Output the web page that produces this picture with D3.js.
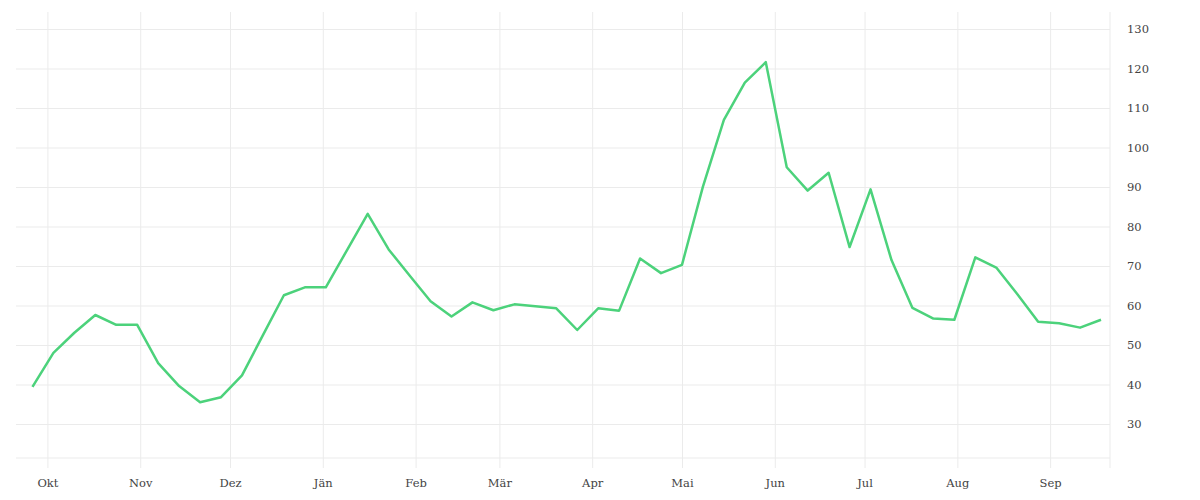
<!DOCTYPE html>
<html>
<head>
<meta charset="utf-8">
<script src="https://cdn.jsdelivr.net/npm/d3@7"></script>
<style>
  body { margin: 0; background: #fff; }
  svg text { font-family: "DejaVu Serif", serif; font-size: 11.5px; fill: #444; }
</style>
</head>
<body>
<svg id="chart" width="1200" height="500"></svg>
<script>
// weekly dates (Mondays)
const dates = [
  "2022-09-26","2022-10-03","2022-10-10","2022-10-17","2022-10-24","2022-10-31",
  "2022-11-07","2022-11-14","2022-11-21","2022-11-28","2022-12-05","2022-12-12",
  "2022-12-19","2022-12-26","2023-01-02","2023-01-09","2023-01-16","2023-01-23",
  "2023-01-30","2023-02-06","2023-02-13","2023-02-20","2023-02-27","2023-03-06",
  "2023-03-13","2023-03-20","2023-03-27","2023-04-03","2023-04-10","2023-04-17",
  "2023-04-24","2023-05-01","2023-05-08","2023-05-15","2023-05-22","2023-05-29",
  "2023-06-05","2023-06-12","2023-06-19","2023-06-26","2023-07-03","2023-07-10",
  "2023-07-17","2023-07-24","2023-07-31","2023-08-07","2023-08-14","2023-08-21",
  "2023-08-28","2023-09-04","2023-09-11","2023-09-18"
];

const values = [
  39.4, 48.0, 53.1, 57.6, 55.1, 55.1, 45.4, 39.6, 35.5, 36.8, 42.3, 52.5,
  62.6, 64.6, 64.6, 73.9, 83.2, 74.2, 67.6, 61.1, 57.2, 60.8, 58.8, 60.3,
  59.8, 59.3, 53.8, 59.3, 58.7, 71.9, 68.2, 70.3, 90.1, 107.0, 116.4, 121.6,
  95.0, 89.1, 93.6, 74.8, 89.4, 71.5, 59.4, 56.7, 56.4, 72.2, 69.6, 62.9,
  55.9, 55.5, 54.4, 56.4
];

const monthLabels = ["Okt","Nov","Dez","Jän","Feb","Mär","Apr","Mai","Jun","Jul","Aug","Sep"];
const yTicks = [30, 40, 50, 60, 70, 80, 90, 100, 110, 120, 130];

// layout
const plot = { left: 16, right: 1110, top: 12, bottom: 458 };
const gridColor = "#ebebeb";
const lineColor = "#4cd27b";

const parse = d3.timeParse("%Y-%m-%d");
const data = dates.map((d, i) => ({ date: parse(d), value: values[i] }));

const svg = d3.select("#chart");

const x = d3.scaleTime()
    .domain([new Date(2022, 8, 20, 12), new Date(2023, 8, 21)])
    .range([plot.left, plot.right]);

const y = d3.scaleLinear()
    .domain([21.4, 134.3])
    .range([plot.bottom, plot.top]);

const months = d3.timeMonth.range(new Date(2022, 9, 1), new Date(2023, 8, 2));

// x axis (ticks used as vertical grid)
const xAxis = svg.append("g")
    .attr("transform", `translate(0,${plot.bottom + 10})`)
    .call(d3.axisBottom(x)
        .tickValues(months)
        .tickSize(0)
        .tickFormat((d, i) => monthLabels[i]));
xAxis.select(".domain").remove();
xAxis.selectAll(".tick line")
    .attr("y1", 0)
    .attr("y2", -(plot.bottom + 10 - plot.top))
    .attr("stroke", gridColor);
xAxis.selectAll(".tick text")
    .attr("y", 15)
    .attr("dy", "0.32em");

// y axis on the right (ticks used as horizontal grid)
const yAxis = svg.append("g")
    .attr("transform", `translate(${plot.right},0)`)
    .call(d3.axisRight(y)
        .tickValues(yTicks)
        .tickSize(0)
        .tickPadding(17));
yAxis.select(".domain").remove();
yAxis.selectAll(".tick line")
    .attr("x1", plot.left - plot.right)
    .attr("x2", 0)
    .attr("stroke", gridColor);

// frame lines: bottom and right
svg.append("line")
    .attr("x1", plot.left).attr("x2", plot.right)
    .attr("y1", plot.bottom).attr("y2", plot.bottom)
    .attr("stroke", gridColor);
svg.append("line")
    .attr("x1", plot.right).attr("x2", plot.right)
    .attr("y1", plot.top).attr("y2", plot.bottom + 10)
    .attr("stroke", gridColor);

svg.selectAll("g").attr("font-family", null).attr("font-size", null);
svg.selectAll(".tick text").attr("fill", null);

// line
svg.append("path")
    .datum(data)
    .attr("fill", "none")
    .attr("stroke", lineColor)
    .attr("stroke-width", 2.5)
    .attr("stroke-linejoin", "round")
    .attr("d", d3.line().x(d => x(d.date)).y(d => y(d.value)));
</script>
</body>
</html>
